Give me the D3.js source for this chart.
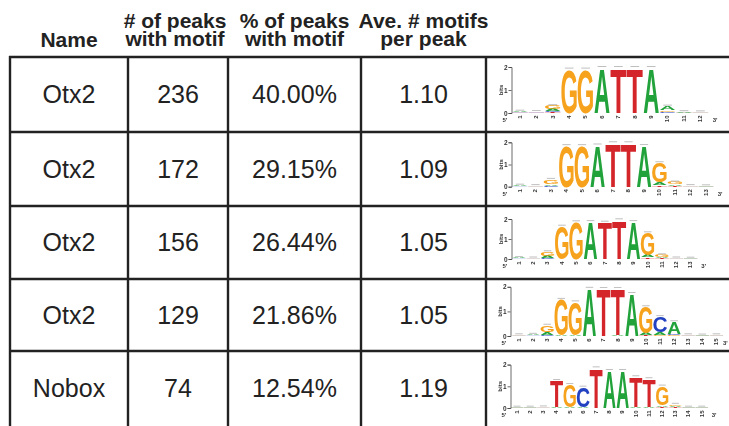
<!DOCTYPE html>
<html>
<head>
<meta charset="utf-8">
<script src="https://cdn.jsdelivr.net/npm/d3@7"></script>
<style>
  html, body { margin: 0; padding: 0; background: #fff; }
  svg { display: block; }
</style>
</head>
<body>
<svg id="chart" width="729" height="426"></svg>
<script>
// ---- table content ----
const headers = [["Name"], ["# of peaks", "with motif"], ["% of peaks", "with motif"], ["Ave. # motifs", "per peak"]];
const names = ["Otx2", "Otx2", "Otx2", "Otx2", "Nobox"];
const peakCounts = [236, 172, 156, 129, 74];
const peakPercents = [40.00, 29.15, 26.44, 21.86, 12.54];
const motifsPerPeak = [1.10, 1.09, 1.05, 1.05, 1.19];

// ---- sequence logos: one stack per position, [base, bits] pairs ----
const logoOtx2a = [
  [["T", 0.01], ["C", 0.01], ["G", 0.02], ["A", 0.03]],
  [["T", 0.01], ["C", 0.01], ["G", 0.02], ["A", 0.02]],
  [["T", 0.03], ["C", 0.05], ["A", 0.08], ["G", 0.15]],
  [["G", 1.90]],
  [["G", 1.90]],
  [["A", 1.97]],
  [["T", 1.97]],
  [["T", 1.97]],
  [["A", 1.97]],
  [["C", 0.04], ["G", 0.07], ["A", 0.18]],
  [["C", 0.01], ["G", 0.01], ["A", 0.03]],
  [["C", 0.01], ["G", 0.01], ["A", 0.02]]
];
const logoOtx2b = [
  [["C", 0.01], ["G", 0.02], ["A", 0.03]],
  [["C", 0.01], ["G", 0.01], ["A", 0.02]],
  [["C", 0.04], ["A", 0.08], ["G", 0.2]],
  [["G", 1.84]],
  [["G", 1.84]],
  [["A", 1.87]],
  [["T", 1.97]],
  [["T", 1.97]],
  [["A", 1.85]],
  [["T", 0.07], ["A", 0.12], ["G", 0.88]],
  [["T", 0.03], ["A", 0.07], ["G", 0.1]],
  [["C", 0.01], ["G", 0.01], ["A", 0.02]],
  [["C", 0.01], ["G", 0.01], ["A", 0.01]]
];
const logoOtx2c = [
  [["C", 0.01], ["G", 0.02], ["A", 0.03]],
  [["C", 0.01], ["G", 0.01], ["A", 0.02]],
  [["C", 0.05], ["A", 0.1], ["G", 0.2]],
  [["G", 1.63]],
  [["G", 1.85]],
  [["A", 1.86]],
  [["T", 1.83]],
  [["T", 1.95]],
  [["A", 1.86]],
  [["T", 0.08], ["A", 0.12], ["G", 1.1]],
  [["T", 0.04], ["A", 0.06], ["G", 0.1]],
  [["C", 0.01], ["G", 0.01], ["A", 0.02]],
  [["C", 0.01], ["G", 0.01], ["A", 0.01]]
];
const logoOtx2d = [
  [["C", 0.01], ["G", 0.01], ["A", 0.02]],
  [["C", 0.01], ["G", 0.02], ["A", 0.03]],
  [["C", 0.05], ["A", 0.1], ["G", 0.28]],
  [["A", 0.04], ["G", 1.44]],
  [["A", 0.05], ["G", 1.33]],
  [["A", 1.93]],
  [["T", 1.92]],
  [["A", 0.04], ["T", 1.88]],
  [["A", 1.72]],
  [["T", 0.04], ["A", 0.08], ["G", 1.06]],
  [["G", 0.06], ["A", 0.1], ["C", 0.62]],
  [["G", 0.04], ["C", 0.06], ["A", 0.47]],
  [["C", 0.01], ["G", 0.01], ["A", 0.02]],
  [["C", 0.01], ["G", 0.01], ["A", 0.01]],
  [["C", 0.01], ["G", 0.01], ["A", 0.02]]
];
const logoNobox = [
  [["C", 0.01], ["G", 0.01], ["A", 0.01]],
  [["C", 0.01], ["G", 0.01], ["A", 0.01]],
  [["C", 0.01], ["G", 0.01], ["A", 0.02]],
  [["A", 0.04], ["T", 1.22]],
  [["A", 0.05], ["G", 1.02]],
  [["A", 0.03], ["C", 0.92]],
  [["T", 1.84]],
  [["A", 1.72]],
  [["A", 1.72]],
  [["A", 0.05], ["T", 1.38]],
  [["A", 0.05], ["T", 1.29]],
  [["T", 0.05], ["A", 0.08], ["G", 0.87]],
  [["T", 0.03], ["A", 0.05], ["G", 0.08]],
  [["C", 0.01], ["G", 0.01], ["A", 0.01]],
  [["C", 0.01], ["G", 0.01], ["A", 0.01]]
];
const logos = [logoOtx2a, logoOtx2b, logoOtx2c, logoOtx2d, logoNobox];

// ---- layout ----
const colEdges = [10, 128, 228, 361, 486, 729];
const rowEdges = [57, 132, 206, 279, 351, 426];
// per logo: baseline offset from row top, px per bit, first column centre, column step
const logoFrames = [
  { base: 56, perBit: 23.0, x1: 520, dx: 16.4, axisX: 511.5 },
  { base: 54.7, perBit: 22.2, x1: 520, dx: 15.5, axisX: 511.5 },
  { base: 53, perBit: 20.0, x1: 519, dx: 14.3, axisX: 511.5 },
  { base: 57, perBit: 24.6, x1: 519, dx: 14.1, axisX: 510.5 },
  { base: 57, perBit: 21.7, x1: 517, dx: 13.2, axisX: 510.5 }
];

const baseStyle = {
  A: { ink: 0.70, color: "#22a23a" },
  C: { ink: 0.64, color: "#2443c2" },
  G: { ink: 0.69, color: "#f6a21d" },
  T: { ink: 0.58, color: "#d4282b" }
};
const FONT = "'Liberation Sans', Arial, Helvetica, sans-serif";
const GLYPH_SIZE = 100, CAP = 0.716;
const ink = "#222";

const svg = d3.select("#chart");

const defs = svg.append("defs");
defs.append("filter").attr("id", "soft")
  .append("feGaussianBlur").attr("stdDeviation", 0.35);

// ---- headers ----
const colCenter = i => (colEdges[i] + colEdges[i + 1]) / 2;
const headG = svg.append("g").attr("font-family", FONT).attr("font-weight", "bold")
  .attr("font-size", 21).attr("fill", ink).attr("text-anchor", "middle");
headers.forEach((lines, i) => {
  const baselines = lines.length === 1 ? [47] : [28, 46];
  lines.forEach((t, j) => {
    headG.append("text").attr("x", colCenter(i) - (i === 1 ? 3 : 0)).attr("y", baselines[j]).text(t);
  });
});

// ---- body cells ----
const rowCenter = r => (rowEdges[r] + rowEdges[r + 1]) / 2 - 0.5;
const columns = [
  names,
  peakCounts.map(String),
  peakPercents.map(v => v.toFixed(2) + "%"),
  motifsPerPeak.map(v => v.toFixed(2))
];
const cellG = svg.append("g").attr("font-family", FONT).attr("font-size", 25)
  .attr("fill", ink).attr("text-anchor", "middle");
columns.forEach((col, c) => {
  cellG.selectAll(null).data(col).join("text")
    .attr("x", colCenter(c))
    .attr("y", (d, r) => rowCenter(r) + 9)
    .text(d => d);
});

// ---- logos ----
logos.forEach((stacks, r) => {
  const f = logoFrames[r];
  const top = rowEdges[r];
  const y0 = top + f.base;
  const n = stacks.length;
  const y = d3.scaleLinear().domain([0, 2]).range([y0, y0 - 2 * f.perBit]);
  const x = d3.scaleLinear().domain([1, n]).range([f.x1, f.x1 + (n - 1) * f.dx]);
  const g = svg.append("g").attr("filter", "url(#soft)");

  // letters
  stacks.forEach((stack, i) => {
    const cx = x(i + 1);
    const w = f.dx * 0.95;
    let acc = 0;
    stack.forEach(([b, bits]) => {
      const yb = y(acc), yt = y(acc + bits);
      acc += bits;
      const h = yb - yt;
      if (h < 0.25) {
        g.append("rect").attr("x", cx - w / 2).attr("y", yt).attr("width", w)
          .attr("height", Math.max(h, 0.2)).attr("fill", baseStyle[b].color).attr("opacity", 0.7);
        return;
      }
      const st = baseStyle[b];
      const sx = w / (st.ink * GLYPH_SIZE), sy = h / (CAP * GLYPH_SIZE);
      g.append("text")
        .attr("transform", `translate(${cx},${yb}) scale(${sx},${sy})`)
        .attr("text-anchor", "middle")
        .attr("font-family", FONT).attr("font-weight", "bold")
        .attr("font-size", GLYPH_SIZE).attr("fill", st.color)
        .text(b);
    });
    // small error bar over each stack
    g.append("line").attr("x1", cx - w * 0.28).attr("x2", cx + w * 0.28)
      .attr("y1", y(acc) - 1.2).attr("y2", y(acc) - 1.2)
      .attr("stroke", "#9a9a9a").attr("stroke-width", 0.8).attr("opacity", 0.8);
  });

  // bits axis
  const ax = g.append("g").attr("transform", `translate(${f.axisX},0)`)
    .call(d3.axisLeft(y).tickValues([0, 1, 2]).tickSize(3).tickPadding(1).tickFormat(d3.format("d")));
  ax.select(".domain").attr("stroke", "#444").attr("stroke-width", 0.8);
  ax.selectAll(".tick line").attr("stroke", "#444").attr("stroke-width", 0.8);
  ax.selectAll(".tick text").attr("font-size", 6.5).attr("font-family", FONT)
    .attr("font-weight", "bold").attr("fill", "#333");
  g.append("text")
    .attr("transform", `translate(${f.axisX - 10},${y(1)}) rotate(-90)`)
    .attr("text-anchor", "middle").attr("dominant-baseline", "middle")
    .attr("font-family", FONT).attr("font-weight", "bold")
    .attr("font-size", 6).attr("fill", "#333").text("bits");

  // position labels
  g.selectAll(null).data(d3.range(1, n + 1)).join("text")
    .attr("transform", d => `translate(${x(d) + 1.8},${y0 + 2.5}) rotate(-90)`)
    .attr("text-anchor", "end")
    .attr("font-family", FONT).attr("font-weight", "bold")
    .attr("font-size", 6).attr("fill", "#333")
    .text(d => d);
  g.append("text").attr("x", f.axisX - 9).attr("y", y0 + 9)
    .attr("font-family", FONT).attr("font-weight", "bold")
    .attr("font-size", 6).attr("fill", "#333").text("5'");
  g.append("text").attr("x", Math.min(x(n) + f.dx * 0.75, 723)).attr("y", y0 + 9)
    .attr("font-family", FONT).attr("font-weight", "bold")
    .attr("font-size", 6).attr("fill", "#333").text("3'");
});

// ---- grid lines ----
const gridG = svg.append("g").attr("stroke", ink).attr("stroke-width", 2.4);
gridG.selectAll(null).data(rowEdges.slice(0, 5)).join("line")
  .attr("x1", colEdges[0] - 1).attr("x2", 729).attr("y1", d => d).attr("y2", d => d);
gridG.selectAll(null).data(colEdges.slice(0, 5)).join("line")
  .attr("x1", d => d).attr("x2", d => d).attr("y1", rowEdges[0] - 1).attr("y2", 426);
</script>
</body>
</html>
